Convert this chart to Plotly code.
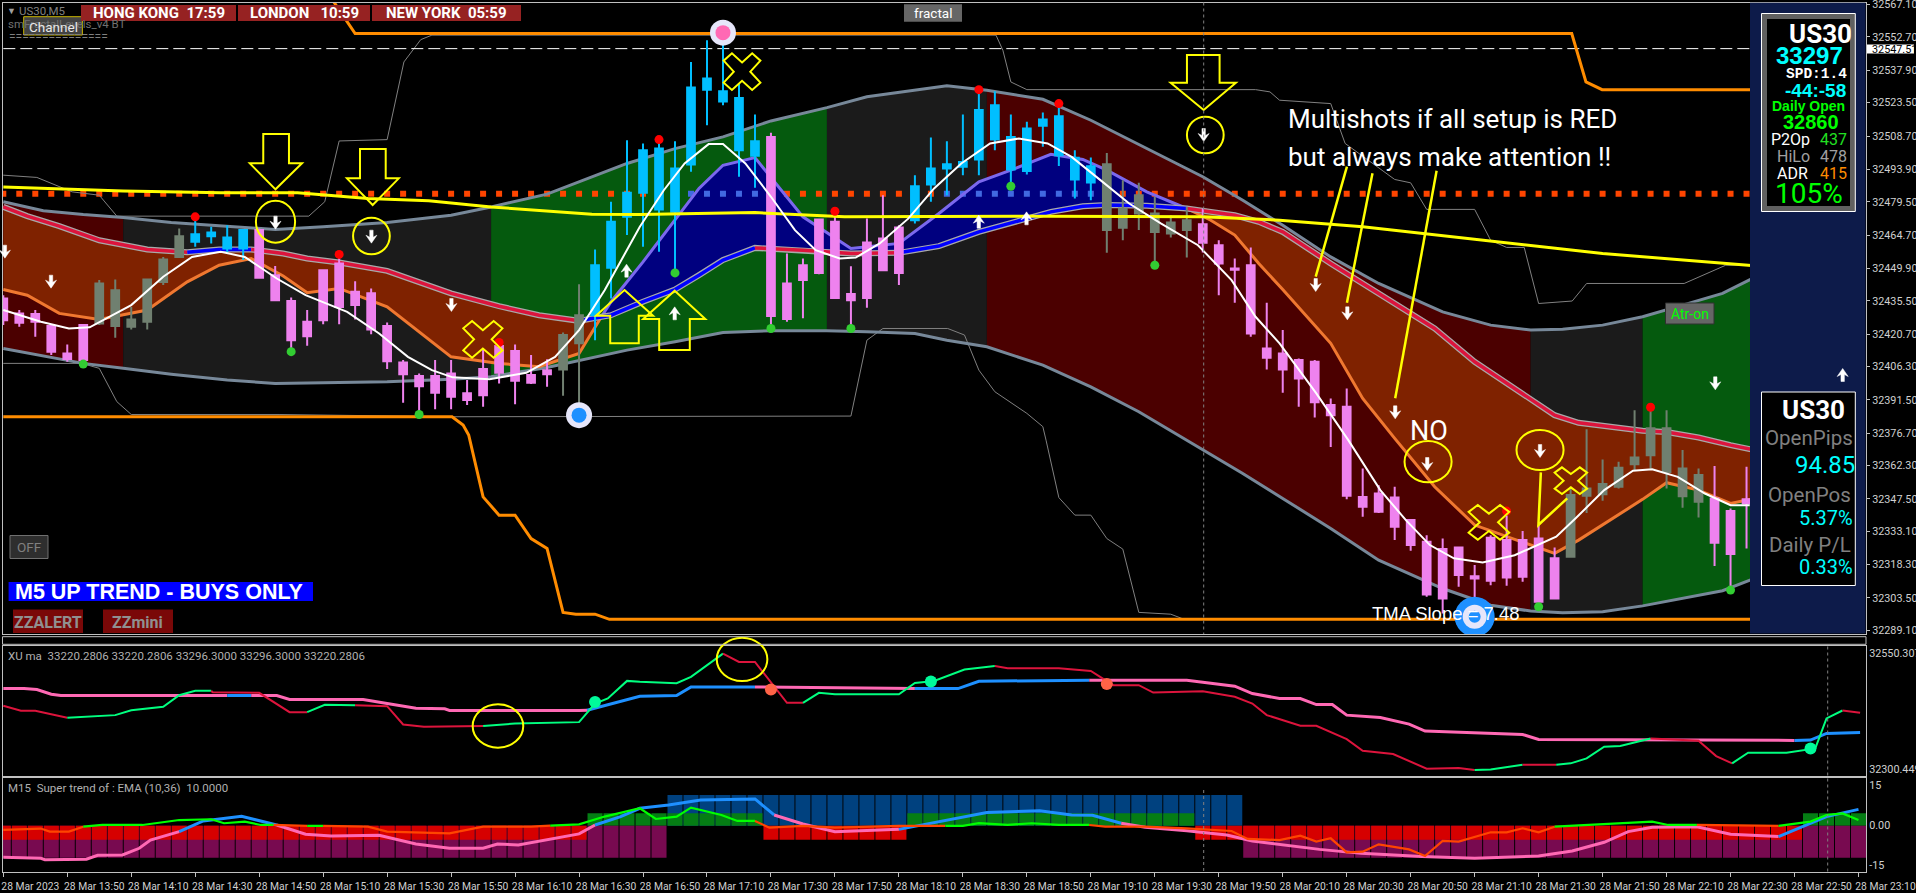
import plotly.graph_objects as go

# ---------- candles (one value per bar) ----------
bar_high = [32438.0,32431.4,32431.4,32424.7,32416.1,32424.7,32444.7,32445.0,32432.8,32445.0,32455.0,32467.6,32472.8,32468.4,32469.1,32466.9,32467.6,32451.0,32437.0,32431.4,
32449.1,32455.0,32444.2,32441.0,32425.9,32409.2,32403.2,32409.2,32409.2,32400.3,32413.6,32416.6,32416.1,32411.4,32409.5,32421.4,32442.9,32458.3,32479.5,32506.8,
32505.4,32507.1,32506.4,32541.6,32551.2,32554.2,32532.0,32518.2,32510.2,32456.5,32454.3,32472.1,32474.3,32450.9,32472.1,32482.4,32469.1,32491.3,32508.0,32506.4,
32518.2,32529.3,32528.6,32518.2,32515.0,32519.1,32523.1,32502.4,32499.1,32501.2,32489.1,32487.9,32481.7,32473.5,32477.2,32476.5,32462.4,32454.3,32459.2,32434.6,
32422.5,32409.9,32409.2,32392.1,32396.6,32361.0,32353.6,32352.9,32338.1,32331.4,32329.9,32325.9,32318.1,32331.4,32340.3,32333.3,32335.9,32325.9,32352.9,32378.5,
32365.0,32364.0,32386.9,32387.7,32386.9,32369.2,32361.0,32362.1,32343.3,32361.8]
bar_body_top = [32436.5,32429.9,32429.6,32424.3,32412.1,32424.7,32443.2,32440.2,32427.2,32445.0,32453.9,32464.2,32465.1,32465.8,32463.6,32466.9,32466.9,32446.9,32435.4,32426.2,
32449.1,32452.1,32439.5,32438.8,32424.3,32408.1,32402.1,32402.1,32403.2,32394.4,32405.2,32415.4,32413.2,32402.5,32404.7,32420.3,32429.1,32451.3,32470.6,32483.5,
32502.4,32503.1,32494.3,32530.2,32534.2,32528.6,32525.6,32506.4,32508.3,32443.2,32451.3,32471.6,32470.6,32438.5,32461.4,32463.2,32468.1,32486.4,32494.3,32496.2,
32497.2,32520.2,32522.4,32508.3,32512.0,32516.0,32517.5,32499.0,32495.3,32496.2,32476.5,32482.4,32474.3,32470.3,32471.3,32469.5,32460.2,32449.9,32451.3,32414.3,
32412.1,32409.2,32408.4,32389.2,32388.4,32348.4,32349.9,32348.1,32338.1,32328.5,32325.2,32325.9,32313.2,32330.2,32329.2,32329.2,32329.9,32321.1,32349.2,32352.1,
32354.1,32361.3,32365.9,32378.9,32378.9,32361.0,32358.1,32347.7,32342.1,32347.3]
bar_body_bottom = [32426.9,32425.7,32426.2,32412.9,32409.6,32409.2,32425.4,32424.3,32424.0,32426.2,32443.9,32455.0,32461.7,32464.2,32458.7,32458.7,32445.7,32435.8,32418.0,32419.8,
32426.9,32432.8,32433.6,32422.8,32408.7,32402.9,32397.6,32394.7,32392.9,32391.4,32393.6,32403.5,32400.0,32399.1,32402.9,32405.0,32416.6,32429.1,32450.2,32472.8,
32483.5,32476.1,32475.0,32496.0,32529.3,32524.0,32502.4,32499.9,32428.8,32427.4,32444.7,32447.9,32436.8,32435.8,32436.8,32449.1,32447.9,32471.3,32487.2,32494.3,
32495.0,32498.3,32507.1,32493.8,32493.2,32513.2,32500.2,32489.4,32488.0,32466.9,32467.9,32474.3,32466.1,32465.4,32466.9,32461.3,32452.1,32449.3,32421.0,32410.2,
32405.0,32401.0,32390.4,32384.7,32348.9,32344.0,32341.8,32335.1,32327.0,32305.1,32303.3,32313.7,32312.2,32311.1,32312.6,32312.9,32301.8,32303.3,32321.8,32348.9,
32349.6,32352.9,32362.9,32366.9,32359.5,32348.7,32346.2,32328.0,32323.0,32345.5]
bar_low = [32424.7,32424.0,32419.5,32411.4,32408.4,32406.2,32424.7,32419.1,32422.8,32422.8,32442.5,32454.7,32459.5,32461.0,32456.5,32453.6,32445.3,32435.5,32413.6,32415.5,
32425.1,32425.1,32427.2,32420.6,32405.2,32390.2,32384.0,32387.3,32387.3,32389.2,32388.4,32398.8,32389.6,32398.5,32397.3,32393.3,32384.0,32418.0,32436.5,32464.7,
32459.5,32457.3,32447.9,32492.8,32513.5,32522.4,32490.6,32485.7,32423.2,32426.2,32427.7,32447.3,32436.5,32423.2,32432.4,32448.8,32442.5,32469.8,32479.5,32482.4,
32491.3,32491.3,32502.4,32486.1,32491.6,32503.9,32495.4,32480.9,32480.2,32456.8,32462.4,32466.9,32451.3,32463.6,32454.7,32457.0,32438.0,32434.6,32419.5,32405.0,
32394.7,32388.4,32383.7,32370.6,32347.4,32339.6,32341.3,32329.2,32324.5,32304.0,32296.6,32308.5,32293.7,32309.2,32308.9,32310.7,32299.6,32302.9,32321.5,32341.3,
32346.7,32352.1,32360.3,32361.0,32352.1,32343.6,32339.3,32317.7,32307.0,32325.5]
bar_tone = ["P"]*6 + ["G"]*6 + ["B"]*4 + ["P"]*19 + ["G"]*2 + ["B"]*11 + ["P"]*9 + ["B"]*12 + ["G"]*6 + ["P"]*23 + ["G"]*9 + ["P"]*3

red_dot_x = [12,21,31,41,52,61,66,94,103]
red_dot_y = [32472.8,32456.1,32417.0,32507.1,32475.3,32529.3,32523.1,32342.1,32388.2]
green_dot_x = [5,18,26,42,48,53,63,72,96,108]
green_dot_y = [32407.4,32412.9,32385.0,32447.9,32423.2,32423.2,32486.4,32451.3,32299.6,32307.0]

# ---------- envelope ----------
band_x = [0,2.5,5,7.5,10.5,14,17,20,24,28,30.5,34,36.5,39,42,45,48,51.5,54,57,59,61.5,65,68,71,75,77.5,80,83,86,90,93,95.5,97.5,100,102.5,105,107.5,109.5]
band_upper = [32479.5,32475.5,32473.8,32472.5,32470.3,32468.7,32467.2,32468.4,32470.3,32473.5,32477.2,32482.9,32489.8,32496.5,32503.1,32508.3,32515.4,32521.3,32526.1,32529.0,32531.0,32529.0,32525.0,32515.7,32505.1,32490.6,32480.2,32469.1,32455.0,32443.2,32430.6,32424.7,32422.5,32422.9,32424.7,32428.4,32433.6,32438.8,32445.9]
band_lower = [32414.3,32410.9,32407.7,32405.5,32402.9,32400.3,32398.8,32399.1,32399.5,32400.7,32401.8,32405.9,32409.9,32413.6,32417.3,32421.4,32422.2,32422.2,32421.7,32421.0,32418.0,32415.1,32406.9,32397.3,32386.2,32369.2,32358.8,32347.7,32334.4,32320.3,32307.7,32300.3,32297.7,32296.9,32297.4,32300.0,32303.3,32306.7,32312.2]

# ---------- moving averages ----------
ma_x = [0,1.5,3.5,6,9,11.5,13.5,15.5,17.5,19,21,24,28,31,33.5,36,37.4,38,40,42,43.5,45,47,50,53,56,58.5,61,63,65.5,67.5,69,71.5,74,75.5,77,78.5,80,83,85,87,89.5,92,94.5,97,98.5,102.5,104,106,108,109.5]
ma_fast = [32477.2,32473.1,32468.7,32462.4,32458.3,32457.1,32458.3,32458.3,32456.5,32454.3,32452.5,32448.8,32438.8,32433.1,32429.1,32426.6,32428.4,32429.1,32435.1,32440.5,32446.9,32453.6,32459.0,32458.0,32456.5,32456.8,32459.8,32466.1,32470.1,32475.0,32477.5,32478.0,32477.7,32476.5,32475.0,32473.5,32470.6,32466.1,32452.1,32443.2,32434.3,32423.2,32408.4,32396.6,32384.7,32381.3,32377.8,32377.2,32374.8,32371.4,32369.2]
ma_slow = [32440.5,32438.0,32429.9,32427.2,32431.4,32443.9,32451.3,32454.3,32446.5,32439.1,32441.0,32432.8,32410.6,32407.7,32406.2,32412.1,32428.4,32435.1,32452.8,32471.3,32485.4,32495.7,32499.1,32472.8,32458.7,32461.0,32474.3,32488.3,32493.5,32500.6,32498.3,32493.5,32483.9,32476.5,32471.3,32464.7,32452.1,32440.5,32416.6,32392.1,32374.4,32352.9,32335.9,32329.5,32323.3,32329.2,32347.3,32354.7,32351.4,32345.5,32347.7]
tma_x = [0,2.35,4.1,5.4,8,10,11.8,13.6,15.1,17.1,18.9,21.5,23.5,25.3,26.8,28.1,30.4,32.7,34.5,36,37.6,39.8,41.3,42.6,44.1,45,46.4,48,49.5,50.8,52.3,53.3,54.8,56.6,58.2,59.9,61.7,63.5,65.3,66.8,68.6,70.4,72.4,74.7,76.8,78.3,79.8,82.1,84.1,86.1,87.7,89.2,90.7,92.5,94.5,97.1,98.3,100.1,101.9,103.1,104.7,106.4,108,109.2]
tma_y = [32431.4,32426.2,32423.2,32423.7,32433.6,32446.2,32455.0,32457.3,32455.0,32445.4,32438.0,32430.6,32421.0,32410.6,32404.7,32401.5,32400.7,32403.5,32410.6,32422.5,32440.2,32468.4,32484.6,32496.5,32505.1,32505.1,32496.5,32481.7,32466.9,32458.0,32454.3,32454.7,32461.0,32472.1,32485.4,32496.5,32505.4,32507.6,32505.4,32499.4,32489.1,32478.7,32469.8,32460.2,32444.7,32428.4,32416.6,32394.4,32373.6,32351.4,32338.1,32327.0,32321.1,32319.3,32322.5,32330.7,32338.8,32351.4,32360.0,32360.7,32357.3,32349.9,32344.7,32344.7]
slow_trend_x = [0,3.6,7.5,13.6,18.4,22.8,26.6,30.5,34.2,36.8,39.8,47,52.6,65.3,75,79.8,85,91.5,100,109.3]
slow_trend_y = [32486.1,32485.2,32484.3,32483.5,32483.5,32480.9,32479.9,32477.2,32475.3,32474.0,32473.8,32474.7,32472.8,32473.1,32472.8,32471.3,32468.4,32463.2,32456.5,32451.2]
dotted_level = 32483.0
dashed_level = 32547.51

# ---------- channels ----------
chan_top_x = [20.5,21.5,22,98.07,98.96,99.97,109.3]
chan_top_y = [32570.0,32559.4,32554.2,32554.2,32532.7,32529.3,32529.3]
chan_low_x = [0,28.06,28.75,29.1,30,31,32,33,34,35,35.8,37,37.9,109.3]
chan_low_y = [32384.0,32384.0,32380.3,32375.9,32348.4,32340.3,32340.3,32329.9,32325.5,32297.1,32296.3,32296.3,32294.0,32294.0]
thin_top_x = [0,2.1,4.3,6,7.1,19.1,20.1,21,24,25.05,26.1,26.8,62.07,62.5,63,64,78.3,79.2,79.8,83,83.9,87,88,89,92,93,94,95.1,96,98.1,99,105.1,107.7,109.2]
thin_top_y = [32491.3,32490.3,32483.9,32482.4,32473.1,32473.1,32479.5,32506.5,32507.1,32541.6,32551.5,32553.5,32553.5,32546.8,32532.7,32529.3,32529.3,32528.3,32524.6,32523.1,32505.4,32489.4,32487.9,32476.1,32476.1,32462.4,32459.2,32459.2,32434.3,32435.4,32443.2,32443.2,32451.3,32451.3]
thin_low_x = [0,4.9,6,7.1,8,17.3,28.06,53,54,55,59.05,60.1,61,62,64,65,65.2,66,67,68,69,70,71,73,73.7]
thin_low_y = [32407.7,32407.7,32405.5,32390.7,32385.0,32385.0,32384.0,32384.3,32418.0,32423.2,32423.2,32420.3,32404.7,32395.1,32385.5,32379.6,32373.6,32348.1,32340.3,32340.3,32329.9,32325.2,32297.1,32296.3,32294.4]

# ---------- XU ma pane ----------
xu_thick_x = [0,1.3,2.1,3,3.6,14,15.5,16,17.1,17.9,22.5,24,25.8,27.6,27.9,36,36.5,38.1,39.8,42.1,43,47,52.5,57,59.7,61,64.5,67.9,74,77,78.1,79.8,81.1,82.1,83.1,84,86.1,87.9,88.9,91.5,95,96,112,113,114,116.1]
xu_thick_y = [32474.9,32474.9,32472.8,32462.7,32459.8,32459.8,32459.8,32459.8,32459.8,32451.2,32451.2,32442.6,32432.5,32431.1,32427.5,32427.5,32428.2,32442.6,32458.4,32459.8,32478.5,32478.5,32476.3,32474.9,32474.9,32490.7,32491.4,32492.9,32492.9,32479.9,32464.1,32453.4,32453.4,32440.4,32440.4,32417.5,32412.4,32398.1,32383.0,32380.1,32375.8,32365.1,32362.9,32363.6,32378.0,32380.1]
xu_thin_x = [0,1.1,2,4,7,8,10,11,12,13,13.1,16,17.9,19,20.1,22,24,25,26.3,30,32,36,37,37.8,39,39.8,42.1,43,45,46,47,49,50,51,52,56,57,58.2,60.1,62,62.8,66,68,69.4,71,71.9,75,77,78.1,79,79.8,81.1,82.1,84,85,86.9,89,91,92,93,95,97.1,98,99,100.1,101.1,103,106,107.1,108.1,109.1,111.5,113.3,114,115,116.1]
xu_thin_y = [32437.6,32426.8,32426.8,32411.7,32417.5,32428.2,32435.4,32460.5,32469.9,32469.9,32467.0,32465.6,32423.9,32423.9,32439.7,32439.0,32436.9,32397.4,32392.3,32393.8,32399.5,32402.4,32442.6,32453.4,32491.4,32489.3,32486.4,32500.0,32550.3,32532.3,32532.3,32444.0,32444.0,32465.6,32462.7,32462.7,32487.1,32491.4,32515.8,32523.7,32518.7,32518.7,32513.0,32482.1,32482.1,32466.3,32469.2,32457.0,32442.6,32417.5,32408.1,32394.5,32394.5,32365.8,32340.6,32333.5,32301.9,32303.3,32299.0,32300.4,32310.5,32310.5,32313.4,32324.1,32349.3,32350.7,32367.2,32362.2,32329.2,32313.4,32336.3,32336.3,32345.7,32410.3,32427.5,32422.5]
xu_dot_up_x = [37,58,113]
xu_dot_up_y = [32446.0,32490.0,32345.5]
xu_dot_dn_x = [48,69]
xu_dot_dn_y = [32472.6,32484.8]

# ---------- Super trend pane ----------
st_x = list(range(117))
st_blue = [0]*42 + [11.5]*36 + [0]*39
st_green = [0]*37 + [4.6]*11 + [0]*9 + [4.6]*18 + [0]*38 + [4.6]*4
st_red = [-5.25]*37 + [0]*11 + [-5.25]*9 + [0]*18 + [-5.25]*38 + [0]*4
st_purple = [-12]*42 + [0]*36 + [-12]*39
st_thick_x = [0,2.35,2.6,5.2,5.9,7.45,8.5,9.2,11,12.5,14.9,17.1,18.9,20.5,23.5,25.8,27.9,30,30.9,32.2,36,37,38.6,39.8,41.6,43.6,47,48.2,50,52,56,60.2,61.5,64.8,66.8,68.1,69.9,71.4,74,76.5,78.1,79.8,82.3,84.9,88.7,92,96,98.1,100.1,101.6,103.1,105.9,108,111,112.5,114,116]
st_thick_y = [-11.9,-12.25,-12.75,-12.6,-11.1,-11,-8.5,-5.4,-2.25,1.75,3.5,0.25,-3.25,-3.9,-3.6,-6.9,-8.5,-8.5,-6.9,-7.25,-3.1,0.25,3.4,6.5,7.75,9.6,10,4,0.6,-2.25,-1.4,3.6,4.9,5.6,4,3.9,0.9,-0.6,-1.9,-3.5,-5.75,-7,-8.9,-10.4,-11.6,-12.25,-11.4,-9.5,-6.25,-2.25,-0.6,-0.4,-3.25,-4.1,-0.4,3.4,6.1]
st_thin_x = [0,2.35,2.9,4.1,5,6.2,8.7,11,13,13.8,15.1,16.1,16.9,19,20,22.8,24,27.9,30,33,34.2,36,37.6,39.8,40.8,42.1,43,44.9,45.9,47,47.9,50,52,56,58.9,60,61,62.8,64.3,66,67.9,68.9,71.4,74,76.8,77.8,79.8,81.1,82.1,83,84,85,86,87.9,88.9,90,91,93,94,95,96,97,99,102.1,103.1,104.1,105.9,111,113,114,115,116]
st_thin_y = [-1.6,-1.1,-2.25,-2.25,-0.4,0.25,0.25,2.1,2.4,0.9,1.5,0.25,0.25,-0.1,-0.1,-0.4,-2.25,-2.9,-0.4,-0.4,0,0.5,3.4,6.5,2.5,3.4,6.75,4,1.75,1.75,-0.75,-0.1,-0.75,-0.1,-0.1,-0.1,0.9,0.25,0.9,0.25,0.25,-0.4,-0.4,-1,-2,-5,-5.4,-3.75,-6,-4.75,-10,-9.75,-7,-8.9,-11.4,-5.75,-6,-2.5,-2.5,-1,-2.5,-0.4,0.25,1.1,1.5,0.25,0.25,-0.1,1.5,4,4.6,2.1]

# ---------- axis labels ----------
time_tick_vals = [0,4,8,12,16,20,24,28,32,36,40,44,48,52,56,60,64,68,72,76,80,84,88,92,96,100,104,108,112,116]
time_tick_text = ["28 Mar 2023","28 Mar 13:50","28 Mar 14:10","28 Mar 14:30","28 Mar 14:50","28 Mar 15:10","28 Mar 15:30","28 Mar 15:50","28 Mar 16:10","28 Mar 16:30",
"28 Mar 16:50","28 Mar 17:10","28 Mar 17:30","28 Mar 17:50","28 Mar 18:10","28 Mar 18:30","28 Mar 18:50","28 Mar 19:10","28 Mar 19:30","28 Mar 19:50",
"28 Mar 20:10","28 Mar 20:30","28 Mar 20:50","28 Mar 21:10","28 Mar 21:30","28 Mar 21:50","28 Mar 22:10","28 Mar 22:30","28 Mar 22:50","28 Mar 23:10"]
price_ticks = [32567.10,32552.70,32537.90,32523.50,32508.70,32493.90,32479.50,32464.70,32449.90,32435.50,32420.70,32406.30,32391.50,32376.70,32362.30,32347.50,32333.10,32318.30,32303.50,32289.10]

# ---------- styles ----------
W, H = 1916, 893
NARROW = "Liberation Sans Narrow, Roboto, sans-serif"
SANS = "Liberation Sans, Arial, sans-serif"
FRAME = "#C0C0C0"
DARKRED, DARKGRAY, DARKGREEN = "#4B0000", "#1B1B1B", "#055A0E"
BROWN, NAVY = "#7F2200", "#00007F"
PINK, SKY, SAGE = "#EE82EE", "#00BFFF", "#708070"
TONES = {"P": PINK, "B": SKY, "G": SAGE}

def fx(x): return x / W
def fy(y): return 1 - y / H
CROPS = {1:(0,0,2.45),2:(640,0,2.45),3:(1280,0,2.465),4:(0,440,2.45),5:(640,440,2.45),6:(1280,440,2.465)}
def cp(c, zx, zy):
    ox, oy, s = CROPS[c]
    return ox + zx / s, oy + zy / 3

fig = go.Figure()

def polyfill(xa, ya, yb, a, b, color):
    idx = [k for k, v in enumerate(xa) if a <= v <= b]
    xs = [xa[k] for k in idx]
    fig.add_trace(go.Scatter(x=xs + xs[::-1], y=[ya[k] for k in idx] + [yb[k] for k in idx][::-1],
                             mode="none", fill="toself", fillcolor=color, hoverinfo="skip", showlegend=False))

def runs(xa, ya, spans, width, xaxis="x", yaxis="y"):
    for a, b, color in spans:
        idx = [k for k, v in enumerate(xa) if a <= v <= b]
        fig.add_trace(go.Scatter(x=[xa[k] for k in idx], y=[ya[k] for k in idx], mode="lines",
                                 line=dict(color=color, width=width), xaxis=xaxis, yaxis=yaxis,
                                 hoverinfo="skip", showlegend=False))

# envelope zones
for a, b, c in [(0,7.5,DARKRED),(7.5,30.5,DARKGRAY),(30.5,51.5,DARKGREEN),(51.5,61.5,DARKGRAY),(61.5,95.5,DARKRED),(95.5,102.5,DARKGRAY),(102.5,109.5,DARKGREEN)]:
    polyfill(band_x, band_upper, band_lower, a, b, c)
# MA ribbon
for a, b, c in [(0,37.4,BROWN),(37.4,74,NAVY),(74,109.5,BROWN)]:
    polyfill(ma_x, ma_fast, ma_slow, a, b, c)
# dotted level
dot_x = list(range(110))
dot_c = ["#4169E1" if (43 <= k <= 48 or 59 <= k <= 68) else "#FF4500" for k in dot_x]
fig.add_trace(go.Scatter(x=dot_x, y=[dotted_level]*110, mode="markers",
                         marker=dict(symbol="square", size=6, color=dot_c, line=dict(width=0)), hoverinfo="skip", showlegend=False))
# thin channels
for xs, ys in [(thin_top_x, thin_top_y), (thin_low_x, thin_low_y)]:
    fig.add_trace(go.Scatter(x=xs, y=ys, mode="lines", line=dict(color="#808080", width=1), hoverinfo="skip", showlegend=False))
# envelope lines
for ys in (band_upper, band_lower):
    fig.add_trace(go.Scatter(x=band_x, y=ys, mode="lines", line=dict(color="#778899", width=3), hoverinfo="skip", showlegend=False))
# MA lines
runs(ma_x, ma_slow, [(0,37.4,"#F07830"),(37.4,74,"#7B68EE"),(74,109.5,"#F07830")], 3)
fig.add_trace(go.Scatter(x=ma_x, y=ma_fast, mode="lines", line=dict(color="#A9A9A9", width=6), hoverinfo="skip", showlegend=False))
runs(ma_x, ma_fast, [(0,11.5,"#DC143C"),(11.5,15.5,"#0000FF"),(15.5,36,"#DC143C"),(36,47,"#0000FF"),(47,56,"#DC143C"),(56,74,"#0000FF"),(74,109.5,"#DC143C")], 3.5)
# dashed level and orange channels
fig.add_trace(go.Scatter(x=[0,109.5], y=[dashed_level]*2, mode="lines", line=dict(color="#FFFFFF", width=1, dash="12px,5px"), hoverinfo="skip", showlegend=False))
for xs, ys in [(chan_top_x, chan_top_y), (chan_low_x, chan_low_y)]:
    fig.add_trace(go.Scatter(x=xs, y=ys, mode="lines", line=dict(color="#FF8C00", width=3), hoverinfo="skip", showlegend=False))

# candles by tone (second layer over the fills)
for tone, color in TONES.items():
    idx = [k for k, t in enumerate(bar_tone) if t == tone]
    up = (tone == "B") or (tone == "G")
    tops = [bar_body_top[k] for k in idx]
    bots = [bar_body_bottom[k] for k in idx]
    side = dict(line=dict(color=color, width=2), fillcolor=color)
    fig.add_trace(go.Candlestick(x=idx, open=bots if up else tops, close=tops if up else bots,
                                 high=[bar_high[k] for k in idx], low=[bar_low[k] for k in idx],
                                 increasing=side, decreasing=side, whiskerwidth=0, showlegend=False, hoverinfo="skip", yaxis="y4"))

# yellow and white curves
fig.add_trace(go.Scatter(x=slow_trend_x, y=slow_trend_y, mode="lines", line=dict(color="#FFFF00", width=3), hoverinfo="skip", showlegend=False, yaxis="y4"))
fig.add_trace(go.Scatter(x=tma_x, y=tma_y, mode="lines", line=dict(color="#FFFFFF", width=2), hoverinfo="skip", showlegend=False, yaxis="y4"))
# dots
fig.add_trace(go.Scatter(x=red_dot_x, y=red_dot_y, mode="markers", marker=dict(color="#FF0000", size=9, line=dict(width=0)), hoverinfo="skip", showlegend=False, yaxis="y4"))
fig.add_trace(go.Scatter(x=green_dot_x, y=green_dot_y, mode="markers", marker=dict(color="#32CD32", size=9, line=dict(width=0)), hoverinfo="skip", showlegend=False, yaxis="y4"))
# target markers
for x, y, rings in [(36, 32384.7, [("#E6E6FA",26),("#1E90FF",15)]), (45, 32554.6, [("#E6E6FA",26),("#FF69B4",15)]), (92, 32295.2, [("#1E90FF",40),("#E6E6FA",24),("#1E90FF",12)])]:
    for col, sz in rings:
        fig.add_trace(go.Scatter(x=[x], y=[y], mode="markers", marker=dict(color=col, size=sz, line=dict(width=0)), hoverinfo="skip", showlegend=False, yaxis="y4"))

# XU ma pane
GRN, CRIM, PK, BL = "#00FF7F", "#DC143C", "#FF69B4", "#1E90FF"
runs(xu_thick_x, xu_thick_y, [(0,14,PK),(14,15.5,BL),(15.5,36.5,PK),(36.5,47,BL),(47,57,PK),(57,67.9,BL),(67.9,112,PK),(112,116.1,BL)], 3, "x2", "y2")
runs(xu_thin_x, xu_thin_y, [(0,4,CRIM),(4,13,GRN),(13,19,CRIM),(19,22,GRN),(22,30,CRIM),(30,45,GRN),(45,50,CRIM),(50,62,GRN),(62,92,CRIM),(92,95,GRN),(95,97.1,CRIM),(97.1,103,GRN),(103,108.1,CRIM),(108.1,115,GRN),(115,116.1,CRIM)], 2, "x2", "y2")
fig.add_trace(go.Scatter(x=xu_dot_up_x, y=xu_dot_up_y, mode="markers", marker=dict(color="#00FA9A", size=12, line=dict(width=0)), xaxis="x2", yaxis="y2", hoverinfo="skip", showlegend=False))
fig.add_trace(go.Scatter(x=xu_dot_dn_x, y=xu_dot_dn_y, mode="markers", marker=dict(color="#FF6347", size=12, line=dict(width=0)), xaxis="x2", yaxis="y2", hoverinfo="skip", showlegend=False))

# Super trend pane
for ys, col in [(st_blue,"#00417F"),(st_green,"#057D14"),(st_purple,"#780A50"),(st_red,"#D60000")]:
    fig.add_trace(go.Bar(x=st_x, y=ys, width=0.94, marker=dict(color=col, line=dict(width=0)), xaxis="x3", yaxis="y3", hoverinfo="skip", showlegend=False))
runs(st_thick_x, st_thick_y, [(0,11,PK),(11,17.1,BL),(17.1,37,PK),(37,48.2,BL),(48.2,56,PK),(56,69.9,BL),(69.9,111,PK),(111,116,BL)], 3, "x3", "y3")
ORG, LIME = "#FF4500", "#00FF00"
runs(st_thin_x, st_thin_y, [(0,5,ORG),(5,16.9,LIME),(16.9,19,ORG),(19,20,LIME),(20,34.2,ORG),(34.2,47,LIME),(47,58.9,ORG),(58.9,67.9,LIME),(67.9,97,ORG),(97,105.9,LIME),(105.9,111,ORG),(111,116,LIME)], 2.2, "x3", "y3")

# ---------- decorations in page coordinates ----------
shapes = []
annos = []
Y = "#FFFF00"
def path(points, color, width=2, fill=None, close=True):
    d = "M " + " L ".join(f"{fx(x):.5f} {fy(y):.5f}" for x, y in points) + (" Z" if close else "")
    shapes.append(dict(type="path", path=d, xref="paper", yref="paper", line=dict(color=color, width=width), fillcolor=fill or "rgba(0,0,0,0)", layer="above"))
def rect(x0, y0, x1, y1, fill=None, line=None, width=1):
    shapes.append(dict(type="rect", xref="paper", yref="paper", x0=fx(x0), x1=fx(x1), y0=fy(y0), y1=fy(y1),
                       fillcolor=fill or "rgba(0,0,0,0)", line=dict(color=line or "rgba(0,0,0,0)", width=width if line else 0), layer="above"))
def ellipse(cx, cy, rx, ry):
    shapes.append(dict(type="circle", xref="paper", yref="paper", x0=fx(cx-rx), x1=fx(cx+rx), y0=fy(cy-ry), y1=fy(cy+ry),
                       line=dict(color=Y, width=2), layer="above"))
def text(t, x, y, size, color="#FFFFFF", font=SANS, anchor="left", bold=False):
    annos.append(dict(text=f"<b>{t}</b>" if bold else t, x=fx(x), y=fy(y), xref="paper", yref="paper", xanchor=anchor, yanchor="middle",
                      showarrow=False, font=dict(family=font, size=size, color=color), borderpad=0))
def small_arrow(x, y, down=True):
    s = 1 if down else -1
    pts = [(x-1.7,y-6.5*s),(x+1.7,y-6.5*s),(x+1.7,y+0.5*s),(x+5.5,y-1.5*s),(x,y+6.5*s),(x-5.5,y-1.5*s),(x-1.7,y+0.5*s)]
    path(pts, "#FFFFFF", 0.5, "#FFFFFF")
def cross(cx, cy, hx, hy):
    pts = [(0,-0.5),(0.55,-1),(1,-0.6),(0.45,0),(1,0.6),(0.55,1),(0,0.5),(-0.55,1),(-1,0.6),(-0.45,0),(-1,-0.6),(-0.55,-1)]
    path([(cx+u*hx, cy+v*hy) for u, v in pts], Y, 2)

# outlined arrows
for c, pts in [
    (1, [(645,402),(708,402),(708,490),(740,490),(675,568),(612,490),(645,490)]),
    (1, [(882,447),(945,447),(945,535),(977,535),(913,615),(850,535),(882,535)]),
    (2, [(1340,165),(1420,165),(1420,248),(1460,248),(1381,330),(1300,248),(1340,248)]),
    (2, [(85,872),(160,957),(122,957),(122,1050),(47,1050),(47,957),(8,957)]),
    (1, [(1530,870),(1600,947),(1565,947),(1565,1030),(1495,1030),(1495,947),(1460,947)]),
]:
    path([cp(c, *p) for p in pts], Y, 2)
# X markers
for c, zx, zy, hx, hy in [(1,1183,1018,48,55),(2,250,215,45,55),(6,515,247,50,52),(6,717,122,40,40)]:
    x, y = cp(c, zx, zy)
    cross(x, y, hx/CROPS[c][2], hy/3)
# circles
for c, zx, zy, rx, ry in [(1,675,665,48,63),(1,910,708,45,55),(2,1385,405,45,55),(6,365,65,58,62),(6,641,30,58,60),(4,1220,858,62,65),(5,250,658,62,65)]:
    x, y = cp(c, zx, zy)
    ellipse(x, y, rx/CROPS[c][2], ry/3)
# signal arrows
for c, zx, zy, d in [(1,12,755,True),(1,125,845,True),(1,675,668,True),(1,910,710,True),(1,1106,915,True),(1,1535,812,False),(2,85,940,False),(2,830,665,False),(2,947,655,False),
                     (2,1381,405,True),(3,88,855,True),(3,166,940,True),(3,284,1237,True),(3,1073,1150,True),(6,363,72,True),(6,641,33,True)]:
    small_arrow(*cp(c, zx, zy), d)
# hand lines
for a, b in [((165,500),(88,830)),((228,520),(165,908)),((386,512),(284,1195))]:
    path([cp(3,*a), cp(3,*b)], Y, 2.5, close=False)
path([cp(6,643,97), cp(6,637,255), cp(6,708,175)], Y, 2.5, close=False)

# separator strip between panes
rect(2.5, 636.7, 1866, 644.3, line=FRAME)
# crosshair lines
for x, y0, y1 in [(1203.7,2.5,634),(1203.7,790,872),(1827.7,646.5,872)]:
    shapes.append(dict(type="line", xref="paper", yref="paper", x0=fx(x), x1=fx(x), y0=fy(y0), y1=fy(y1), line=dict(color="#808080", width=1, dash="3px,3px"), layer="above"))

# right info panel
rect(1750, 2.8, 1865.5, 633.6, fill="#0D1B4A")
small_arrow(*cp(3,1387,1125), False)
rect(1761.5, 13.5, 1855.3, 211.5, fill="#606060", line="#FFFFFF")
rect(1767, 19, 1850, 206, fill="#000000")
rect(1761.5, 392, 1855.3, 585.5, fill="#000000", line="#FFFFFF")

text("US30", 1820.5, 33.5, 26, "#FFFFFF", NARROW, "center", True)
text("33297", 1809.8, 55.5, 24, "#00FFFF", SANS, "center", True)
text("SPD:1.4", 1816, 74, 14.5, "#FFFFFF", "Liberation Mono, monospace", "center", True)
text("-44:-58", 1815, 90, 19, "#00FFFF", SANS, "center", True)
text("Daily Open", 1808, 105.5, 14, "#00FF00", SANS, "center", True)
text("32860", 1810.6, 122, 20, "#00FF00", SANS, "center", True)
text("P2Op", 1790, 139.5, 16, "#FFFFFF", NARROW, "center")
text("437", 1833, 139.5, 16, "#22E022", NARROW, "center")
text("HiLo", 1793, 157, 16, "#A0A0A0", NARROW, "center")
text("478", 1833, 157, 16, "#A0A0A0", NARROW, "center")
text("ADR", 1792, 173.5, 16, "#FFFFFF", NARROW, "center")
text("415", 1833, 173.5, 16, "#FF8C00", NARROW, "center")
text("105%", 1808.6, 193.5, 28, "#00FF00", NARROW, "center")
text("US30", 1813.5, 410, 26, "#FFFFFF", NARROW, "center", True)
text("OpenPips", 1808.5, 438, 20.5, "#808080", NARROW, "center")
text("94.85", 1825, 465, 24, "#00FFFF", NARROW, "center")
text("OpenPos", 1809.5, 495, 20.5, "#808080", NARROW, "center")
text("5.37%", 1826, 518, 20, "#00FFFF", NARROW, "center")
text("Daily P/L", 1809.5, 545, 20.5, "#808080", NARROW, "center")
text("0.33%", 1826, 567, 20, "#00FFFF", NARROW, "center")

# header labels
text("▼", 6, 11, 9, "#A0A0A0")
text("US30,M5", 18, 11, 11.5, "#808080", NARROW)
text("smFractalLevels_v4 BT", 7, 24, 11.5, "#707070", NARROW)
rect(23.7, 16.7, 82.4, 35, fill="rgba(90,90,90,0.75)", line="#C8B400")
text("Channel", 53, 27, 13.5, "#E8E8E8", NARROW, "center")
text("===============", 8, 36.5, 12, "#808080", NARROW)
for x0, x1, t1 in [(81,236,"HONG KONG  17:59"),(238,370,"LONDON   10:59"),(372,521,"NEW YORK  05:59")]:
    rect(x0, 5, x1, 21, fill="#962222")
    text(t1, (x0+x1)/2, 13.2, 15, "#FFFFFF", NARROW, "center", True)
rect(904, 4.3, 962, 21.7, fill="#666666")
text("fractal", 933, 13.3, 13.5, "#FFFFFF", NARROW, "center")
rect(1665.5, 303, 1714, 324, fill="#666666", line="#303030")
text("Atr-on", 1689.5, 314, 14, "#00FF00", NARROW, "center")
rect(10, 535.5, 48, 558.5, fill="#2E2E2E", line="#707070")
text("OFF", 29, 547, 13.5, "#808080", NARROW, "center")
rect(8.6, 582, 313, 601, fill="#0000FF")
text("M5 UP TREND - BUYS ONLY", 14, 592, 21.5, "#FFFFFF", SANS, "left", True)
rect(13, 609.5, 83, 633, fill="#7A0808")
text("ZZALERT", 48, 622, 16, "#909090", NARROW, "center", True)
rect(103, 609.5, 173, 633, fill="#7A0808")
text("ZZmini", 137, 622, 16, "#909090", NARROW, "center", True)

# chart notes
text("Multishots if all setup is RED", 1287, 119, 26, "#FFFFFF", NARROW)
text("but always make attention !!", 1287, 157, 26, "#FFFFFF", NARROW)
text("NO", 1429, 431, 27, "#FFFFFF", NARROW, "center")
text("TMA Slope = 7.48", 1371, 613, 18.5, "#FFFFFF", SANS)
text("XU ma  33220.2806 33220.2806 33296.3000 33296.3000 33220.2806", 7, 656, 11.5, "#B0B0B0", NARROW)
text("M15  Super trend of : EMA (10,36)  10.0000", 7, 788, 11.5, "#B0B0B0", NARROW)
# current price tag
rect(1867, 44.5, 1914, 53.5, fill="#FFFFFF")
text("32547.51", 1871, 49, 10.8, "#000000", NARROW)

axis_common = dict(showgrid=False, zeroline=False, showline=True, linecolor=FRAME, linewidth=1, mirror=True, range=[-0.05, 116.47], domain=[2.5/W, 1866/W], automargin=False)
yfont = dict(family=NARROW, size=10.8, color="#D0D0D0")
xfont = dict(family=NARROW, size=10.3, color="#D0D0D0")
ycommon = dict(side="right", showgrid=False, zeroline=False, showline=True, linecolor=FRAME, mirror=True, tickmode="array", automargin=False, tickfont=yfont, ticklabeloverflow="allow")
fig.update_layout(
    template=None,
    width=W, height=H, margin=dict(l=0, r=0, t=0, b=0, pad=0), autosize=False,
    paper_bgcolor="#000000", plot_bgcolor="#000000", showlegend=False,
    barmode="overlay", boxmode="overlay", boxgap=0.31,
    shapes=shapes, annotations=annos,
    xaxis=dict(**axis_common, anchor="y", showticklabels=False, ticks="", rangeslider=dict(visible=False)),
    xaxis2=dict(**axis_common, anchor="y2", showticklabels=False, ticks=""),
    xaxis3=dict(**axis_common, anchor="y3", tickmode="array", tickvals=time_tick_vals, ticktext=time_tick_text, ticks="outside", ticklen=4,
                tickcolor=FRAME, tickfont=xfont, ticklabelshift=27, ticklabelstandoff=0, tickangle=0, ticklabeloverflow="allow"),
    yaxis=dict(**ycommon, domain=[1-634/H, 1-2.5/H], range=[32287.5, 32568.0], anchor="x",
               tickvals=price_ticks, ticktext=[f"{v:.2f}" for v in price_ticks], ticks="outside", ticklen=3, tickcolor=FRAME),
    yaxis4=dict(overlaying="y", domain=[1-634/H, 1-2.5/H], range=[32287.5, 32568.0], anchor="x", side="right", visible=False, showgrid=False, zeroline=False, automargin=False),
    yaxis2=dict(**ycommon, domain=[1-776/H, 1-646.3/H], range=[32286.1, 32566.1], anchor="x2",
                tickvals=[32550.3072, 32300.4494], ticktext=["32550.3072", "32300.4494"], ticks=""),
    yaxis3=dict(**ycommon, domain=[1-872.3/H, 1-778.3/H], range=[-17.5, 17.75], anchor="x3",
                tickvals=[15, 0, -15], ticktext=["15", "0.00", "-15"], ticks=""),
)
fig.write_html("out.html", config={"displayModeBar": False},
               post_script="document.body.style.margin='0';document.body.style.background='#000';document.body.style.overflow='hidden';")
